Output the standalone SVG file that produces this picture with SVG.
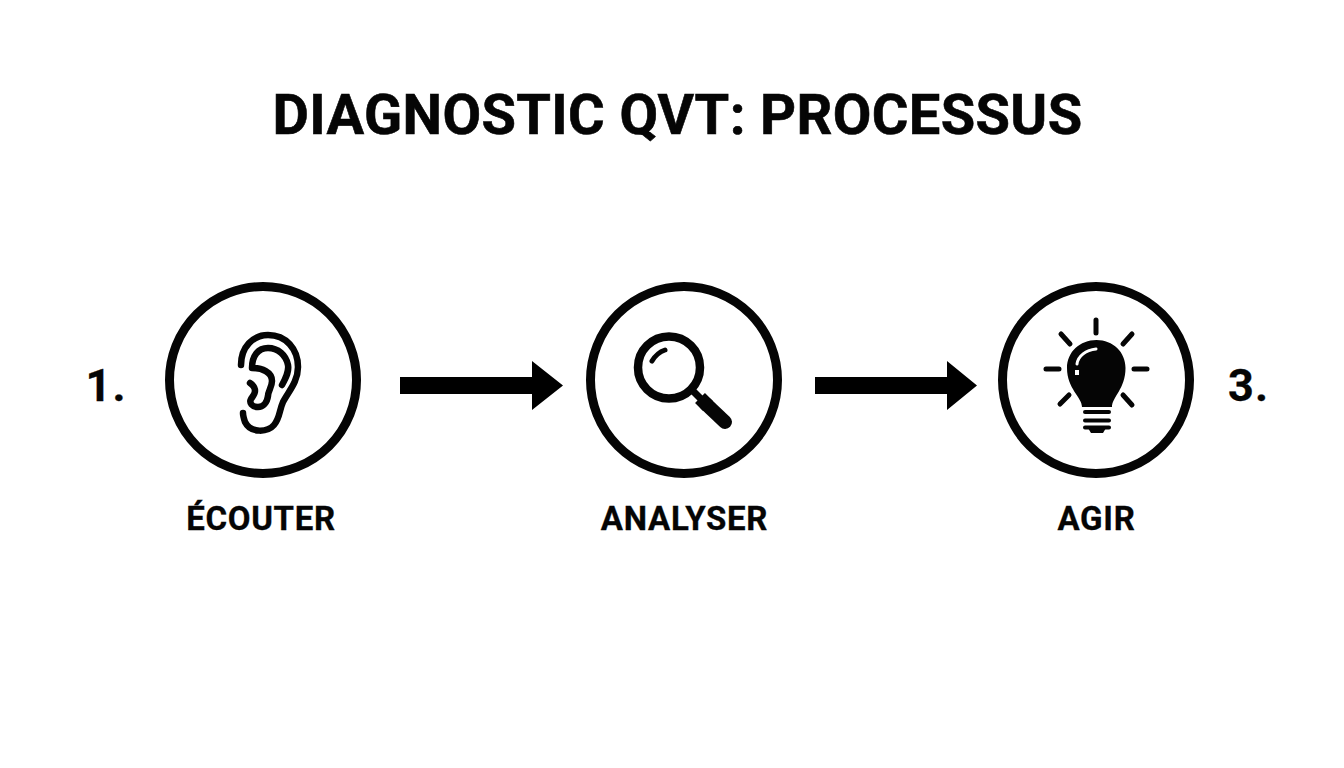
<svg xmlns="http://www.w3.org/2000/svg" width="1344" height="768" viewBox="0 0 1344 768">
<style>
text{font-family:Roboto,"Liberation Sans",sans-serif;font-weight:700;fill:#050505;stroke:#050505;text-anchor:middle}
.title{font-size:56px;letter-spacing:.37px;stroke-width:.6}
.label{font-size:33px;letter-spacing:.7px;stroke-width:.3}
.num{font-size:45px;letter-spacing:1px;stroke-width:.3}
.ring{fill:#fff;stroke:#050505;stroke-width:9}
.line{fill:none;stroke:#050505;stroke-linecap:round;stroke-linejoin:round}
.arrow{fill:#000}
</style>
<rect width="1344" height="768" fill="#fff"/>
<text class="title" x="677.500" y="133.500">DIAGNOSTIC QVT: PROCESSUS</text>
<g id="connectors">
<path class="arrow" d="M400 377H532V361L563 385.500L532 410V394H400Z"/>
<path class="arrow" d="M815 377H947V361L977 385.500L947 410V394H815Z"/>
</g>
<g id="step1">
<text class="num" x="106" y="400.500">1.</text>
<circle class="ring" cx="263" cy="380" r="93.500"/>
<path class="line" stroke-width="6.500" d="M241 365C241 347 253 335 268 335C286 335 298 349 298 367C298 382 288 392 283 402C279 411 280 418 274 425C268 432 251 434 245 422C244 419 243 416 243 413"/>
<path class="line" stroke-width="6.500" d="M282 385C287 376 289 371 288 365C286 355 278 348 268 348C258 348 252 356 252 368C262 368 272 372 272 381C272 387 268 391 268 396C267 403 263 407 258 407C252 407 249 403 251 399C253 396 255 394 255 391C255 387 253 385 250 383"/>
<text class="label" x="261" y="530">ÉCOUTER</text>
</g>
<g id="step2">
<circle class="ring" cx="684" cy="380" r="93.500"/>
<circle cx="669" cy="367.500" r="31" fill="none" stroke="#050505" stroke-width="8.500"/>
<path class="line" stroke-width="5" d="M652 361C655 356 659 352 665 350"/>
<path fill="none" stroke="#050505" stroke-width="7" d="M691 389L703 401"/>
<path class="line" stroke-width="14" d="M706 404L725 422"/>
<path fill="none" stroke="#050505" stroke-width="14" d="M700 398L708 406"/>
<text class="label" x="684.500" y="530">ANALYSER</text>
</g>
<g id="step3">
<circle class="ring" cx="1096" cy="380" r="93.500"/>
<path fill="#050505" d="M1082 407C1082 397 1067 389 1067 368C1067 352 1080 340 1096.500 340C1113 340 1125.500 352 1125.500 368C1125.500 389 1112 397 1112 407Z"/>
<path class="line" stroke-width="5" d="M1096 320V333M1061 334L1070 344M1132 334L1123 344M1046 369H1059M1134 369H1147M1069 395L1060 404M1123 395L1132 405"/>
<path class="line" stroke-width="4" d="M1085 412H1109M1085 420.500H1109M1085 427.500H1109"/>
<path fill="#050505" d="M1088 428H1106L1103 433H1091Z"/>
<path fill="none" stroke="#fff" stroke-width="3" stroke-linecap="round" d="M1077 364C1078 356 1086 350 1096 349"/>
<rect x="1075" y="370" width="4" height="5" fill="#fff"/>
<text class="label" x="1096.500" y="530">AGIR</text>
<text class="num" x="1248.500" y="400.500">3.</text>
</g>
</svg>
